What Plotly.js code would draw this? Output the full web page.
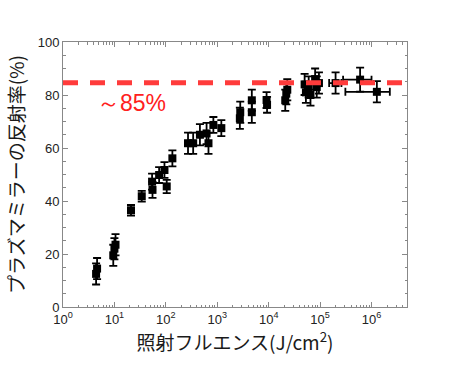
<!DOCTYPE html>
<html><head><meta charset="utf-8">
<script src="https://cdn.plot.ly/plotly-3.0.1.min.js"></script>
<style>html,body{margin:0;padding:0;background:#fff}#chart{width:452px;height:370px}</style>
</head><body><div id="chart"></div>
<script>
// Main data (fluence J/cm^2, reflectivity %, y error)
const fluence = [4.4,4.6,9.5,10.0,10.5,21,34,54,55,74,94,104,134,270,340,460,620,675,840,1200,2750,2800,4700,4700,9100,9300,21000,22000,23000,50000,53000,60000,65000,80000,86000,95000];
const reflect = [12.5,14.5,19.5,22.0,23.5,36.5,41.8,47.3,44.2,49.8,51.7,45.5,56.1,61.8,61.8,65.0,65.5,61.8,68.7,67.5,71.2,73.5,78.0,73.5,78.1,76.3,78.0,80.5,82.0,84.0,81.0,83.0,80.0,86.0,83.0,84.5];
const reflectErr = [4,4,4,4,4,2,2,3,3,3,3,2.5,3,4,4,4,4,4,3,3,4,4,4,4,3,3,4,4,4,4,4,4,4,4,4,4];
// Points with horizontal error bars
const fluenceX = [200000,600000,1270000];
const reflectX = [84.5,85.8,81.2];
const reflectXErr = [4,4.5,4];
const fluenceErrPlus = [60000,400000,1000000];
const fluenceErrMinus = [50000,320000,960000];
// Reference level
const level = 84.6;
const levelLabel = '～85%';
const tickVals = [1,10,100,1000,10000,100000,1000000];
const tickText = ['10<sup>0</sup>','10<sup>1</sup>','10<sup>2</sup>','10<sup>3</sup>','10<sup>4</sup>','10<sup>5</sup>','10<sup>6</sup>'];

const marker = {symbol:'square', size:8, color:'#000'};
const traces = [
  {x:fluence, y:reflect, type:'scatter', mode:'markers', marker:marker,
   error_y:{type:'data', array:reflectErr, color:'#000', thickness:1.8, width:4}},
  {x:fluenceX, y:reflectX, type:'scatter', mode:'markers', marker:marker,
   error_y:{type:'data', array:reflectXErr, color:'#000', thickness:1.8, width:4},
   error_x:{type:'data', array:fluenceErrPlus, arrayminus:fluenceErrMinus, color:'#000', thickness:1.8, width:4}}
];
const axisCommon = {showline:true, mirror:'ticks', linecolor:'#888', linewidth:1, ticks:'inside', tickcolor:'#888', ticklen:5, showgrid:false, zeroline:false,
  tickfont:{family:'Liberation Sans, Arial', size:13, color:'#222'}};
const layout = {
  width:452, height:370, margin:{l:63, r:45, t:42, b:63},
  paper_bgcolor:'#fff', plot_bgcolor:'#fff', showlegend:false,
  xaxis:Object.assign({}, axisCommon, {type:'log', range:[0,6.69], tickmode:'array', tickvals:tickVals, ticktext:tickText,
    minor:{ticks:'inside', ticklen:2.5, tickcolor:'#888', dtick:'D1'},
    title:{text:'照射フルエンス(J/cm<sup>2</sup>)', font:{family:'Noto Sans CJK JP', size:19, color:'#1a1a1a'}, standoff:10}}),
  yaxis:Object.assign({}, axisCommon, {range:[0,100], dtick:20,
    minor:{ticks:'inside', ticklen:2.5, tickcolor:'#888', dtick:5},
    title:{text:'プラズマミラーの反射率(%)', font:{family:'Noto Sans CJK JP', size:19, color:'#1a1a1a'}, standoff:8}}),
  shapes:[{type:'line', xref:'paper', x0:0, x1:1, yref:'y', y0:level, y1:level, layer:'above',
    line:{color:'#ff3b3b', width:5, dash:'15px,12px'}}],
  annotations:[{x:1.34, y:77, xref:'x', yref:'y', text:levelLabel, showarrow:false,
    font:{family:'Liberation Sans, Arial', size:23, color:'#ff2020'}}]
};
Plotly.newPlot('chart', traces, layout, {displayModeBar:false, staticPlot:true});
</script></body></html>
